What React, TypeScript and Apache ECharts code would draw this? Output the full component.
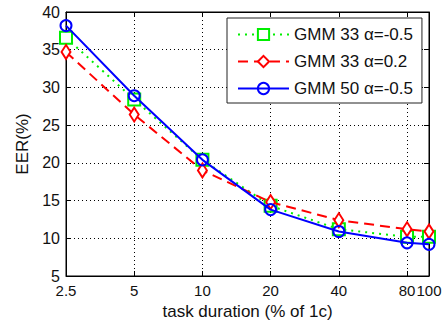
import React, { useEffect, useRef } from "react";
import * as echarts from "echarts";

const durations = [2.5, 5, 10, 20, 40, 80, 100];
const xTickValues = [2.5, 5, 10, 20, 40, 80, 100];
const gmm33Neg05 = [36.6, 28.4, 20.4, 14.3, 11.2, 10.2, 10.2];
const gmm33Pos02 = [34.7, 26.4, 19.0, 14.8, 12.4, 11.2, 10.9];
const gmm50Neg05 = [38.2, 28.9, 20.4, 13.8, 10.9, 9.4, 9.2];
const seriesNames = ["GMM 33 α=-0.5", "GMM 33 α=0.2", "GMM 50 α=-0.5"];

const X_MIN = 2.5;
const X_MAX = 100;
const FONT = "'Liberation Sans', Arial, sans-serif";

export default function App() {
  const ref = useRef<HTMLDivElement>(null);
  useEffect(() => {
    if (!ref.current) return;
    const chart = echarts.init(ref.current, null, { renderer: "svg" });
    const pairs = (ys: number[]) => durations.map((x, i) => [x, ys[i]]);
    // the log scale's round-tripped extent may differ from the raw value by a rounding error
    const lo = Math.pow(2, Math.log(X_MIN) / Math.log(2));
    const hi = Math.pow(2, Math.log(X_MAX) / Math.log(2));
    const tickVals = xTickValues.map((v) => Math.min(Math.max(v, lo), hi));
    const fmt = (v: number) => {
      let best = xTickValues[0];
      for (const t of xTickValues)
        if (Math.abs(Math.log(t) - Math.log(v)) < Math.abs(Math.log(best) - Math.log(v))) best = t;
      return String(best);
    };
    const xBase = {
      type: "log" as const,
      logBase: 2,
      min: X_MIN,
      max: X_MAX,
    };
    chart.setOption({
      animation: false,
      backgroundColor: "#fff",
      textStyle: { fontFamily: FONT },
      grid: {
        left: 66,
        right: 17,
        top: 12,
        bottom: 50,
        show: true,
        borderColor: "#000",
        borderWidth: 1,
        backgroundColor: "#fff",
      },
      legend: {
        orient: "vertical",
        left: 227,
        top: 18,
        data: seriesNames,
        itemWidth: 51,
        itemHeight: 14,
        itemGap: 10,
        padding: [8, 9, 6, 10],
        backgroundColor: "#fff",
        borderColor: "#222",
        borderWidth: 1,
        borderRadius: 0,
        textStyle: { fontSize: 17, color: "#111", fontFamily: FONT, lineHeight: 16 },
      },
      xAxis: [
        {
          ...xBase,
          position: "bottom",
          name: "task duration (% of 1c)",
          nameLocation: "middle",
          nameGap: 27,
          nameTextStyle: { fontSize: 17, color: "#111", fontFamily: FONT },
          axisLine: { show: true, onZero: false, lineStyle: { color: "#000", width: 1 } },
          axisTick: { show: true, inside: true, length: 5, lineStyle: { color: "#000" }, customValues: tickVals },
          axisLabel: {
            fontSize: 15,
            color: "#111",
            margin: 7,
            formatter: fmt,
            customValues: tickVals,
            hideOverlap: false,
            showMinLabel: true,
            showMaxLabel: true,
          },
          splitLine: { show: true, lineStyle: { color: "#000", type: [1, 3], width: 1 } },
        },
        {
          ...xBase,
          position: "top",
          axisLine: { show: true, onZero: false, lineStyle: { color: "#000", width: 1 } },
          axisTick: { show: true, inside: true, length: 5, lineStyle: { color: "#000" }, customValues: tickVals },
          axisLabel: { show: false },
          splitLine: { show: false },
        },
      ],
      yAxis: [
        {
          type: "value",
          min: 5,
          max: 40,
          interval: 5,
          position: "left",
          name: "EER(%)",
          nameLocation: "middle",
          nameGap: 33,
          nameTextStyle: { fontSize: 17, color: "#111", fontFamily: FONT },
          axisLine: { show: true, onZero: false, lineStyle: { color: "#000", width: 1 } },
          axisTick: { show: true, inside: true, length: 5, lineStyle: { color: "#000" } },
          axisLabel: { fontSize: 16, color: "#111", margin: 6, showMinLabel: true, showMaxLabel: true },
          splitLine: { show: true, lineStyle: { color: "#000", type: [1, 3], width: 1 } },
        },
        {
          type: "value",
          min: 5,
          max: 40,
          interval: 5,
          position: "right",
          axisLine: { show: true, onZero: false, lineStyle: { color: "#000", width: 1 } },
          axisTick: { show: true, inside: true, length: 5, lineStyle: { color: "#000" } },
          axisLabel: { show: false },
          splitLine: { show: false },
        },
      ],
      series: [
        {
          name: seriesNames[0],
          type: "line",
          data: pairs(gmm33Neg05),
          symbol: "rect",
          symbolSize: 12,
          lineStyle: { color: "#00ee00", width: 2, type: [2, 5] },
          itemStyle: { color: "#fff", borderColor: "#00ee00", borderWidth: 2 },
          z: 2,
        },
        {
          name: seriesNames[1],
          type: "line",
          data: pairs(gmm33Pos02),
          symbol: "diamond",
          symbolSize: [9, 14],
          lineStyle: { color: "#ff0000", width: 2, type: [10, 6] },
          itemStyle: { color: "#fff", borderColor: "#ff0000", borderWidth: 2 },
          z: 3,
        },
        {
          name: seriesNames[2],
          type: "line",
          data: pairs(gmm50Neg05),
          symbol: "circle",
          symbolSize: 11,
          lineStyle: { color: "#0000ff", width: 2 },
          itemStyle: { color: "rgba(255,255,255,0)", borderColor: "#0000ff", borderWidth: 2 },
          z: 4,
        },
      ],
    });
    return () => chart.dispose();
  }, []);
  return (
    <div
      ref={ref}
      style={{ position: "fixed", left: 0, top: 0, width: 446, height: 326 }}
    />
  );
}
